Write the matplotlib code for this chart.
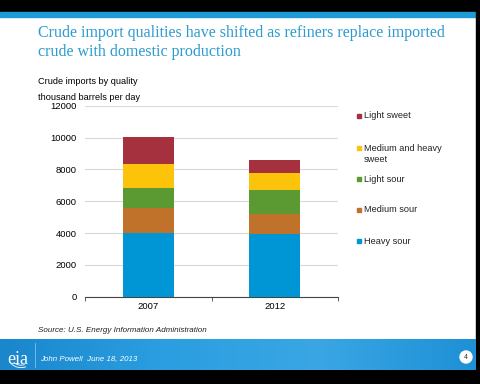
import numpy as np
import matplotlib
matplotlib.use("Agg")
import matplotlib.pyplot as plt
from matplotlib.patches import Rectangle, Circle, Arc

# Data (thousand barrels per day)
years = ["2007", "2012"]
categories = ["Heavy sour", "Medium sour", "Light sour", "Medium and heavy\nsweet", "Light sweet"]
heavy_sour = [4020, 3960]
medium_sour = [1570, 1240]
light_sour = [1240, 1510]
med_heavy_sweet = [1530, 1050]
light_sweet = [1650, 820]
colors = ["#0096d6", "#c0722b", "#5b9a32", "#fcc30b", "#a5313f"]

y_ticks = [0, 2000, 4000, 6000, 8000, 10000, 12000]

plt.rcParams["font.family"] = ["Liberation Sans", "DejaVu Sans"]

fig = plt.figure(figsize=(4.8, 3.84), dpi=100)
fig.patch.set_facecolor("white")

# Slide decoration, drawn in pixel coordinates
bg = fig.add_axes([0, 0, 1, 1])
bg.set_xlim(0, 480)
bg.set_ylim(384, 0)
bg.axis("off")
bg.add_patch(Rectangle((0, 0), 480, 12, color="black"))
bg.add_patch(Rectangle((0, 12), 480, 4.5, color="#1e9ad6"))
bg.add_patch(Rectangle((0, 370), 480, 14, color="black"))
bg.add_patch(Rectangle((476, 0), 4, 384, color="black"))
grad = np.linspace(0, 1, 256).reshape(1, -1)
footer_cmap = matplotlib.colors.LinearSegmentedColormap.from_list(
    "footer", ["#1a86cc", "#2a9ee0", "#3aa6e4", "#1e90d6"])
bg.imshow(grad, extent=(0, 476, 370, 339), aspect="auto", cmap=footer_cmap, zorder=1)
bg.plot([35, 35], [343, 367], color="#7cc2ec", lw=0.6, zorder=2)
bg.text(18, 359, "eia", color="white", fontsize=13, family="Liberation Serif",
        ha="center", va="center", zorder=3)
for r in (9, 12):
    bg.add_patch(Arc((21, 358), r * 2, r * 1.6, theta1=60, theta2=150,
                     color="white", lw=0.6, zorder=3))
bg.text(40, 359, "John Powell  June 18, 2013", color="white", fontsize=5.7,
        style="italic", va="center", zorder=3)
bg.add_patch(Circle((466, 357), 6, color="white", zorder=3))
bg.text(466, 357.5, "4", color="#333333", fontsize=5, ha="center", va="center", zorder=4)

# Titles and notes
title_color = "#2b9bd0"
fig.text(38 / 480, 1 - 33 / 384, "Crude import qualities have shifted as refiners replace imported",
         color=title_color, fontsize=11.5, family="Liberation Serif", va="center")
fig.text(38 / 480, 1 - 52 / 384, "crude with domestic production",
         color=title_color, fontsize=11.5, family="Liberation Serif", va="center")
fig.text(38 / 480, 1 - 82 / 384, "Crude imports by quality", fontsize=6.6, va="center")
fig.text(38 / 480, 1 - 97 / 384, "thousand barrels per day", fontsize=6.6, va="center")
fig.text(38 / 480, 1 - 330 / 384, "Source: U.S. Energy Information Administration",
         fontsize=5.8, style="italic", va="center", color="#222222")

# Stacked bars
ax = fig.add_axes([85 / 480, 87.3 / 384, 253 / 480, 191 / 384])
x = np.arange(len(years))
series = [heavy_sour, medium_sour, light_sour, med_heavy_sweet, light_sweet]
bottom = np.zeros(len(years))
for vals, c in zip(series, colors):
    ax.bar(x, vals, width=0.4, bottom=bottom, color=c, zorder=3)
    bottom += np.array(vals)

ax.set_xlim(-0.5, 1.5)
ax.set_ylim(0, 12000)
ax.set_yticks(y_ticks)
ax.set_yticklabels([str(v) for v in y_ticks], fontsize=6.8)
ax.set_xticks(x)
ax.set_xticklabels(years, fontsize=6.8)
ax.tick_params(axis="y", length=0, pad=6)
ax.tick_params(axis="x", length=0, pad=4)
ax.set_xticks([-0.5, 0.5, 1.5], minor=True)
ax.tick_params(axis="x", which="minor", length=3, color="#444444")
ax.grid(axis="y", color="#d9d9d9", lw=0.8, zorder=0)
for s in ("top", "right", "left"):
    ax.spines[s].set_visible(False)
ax.spines["bottom"].set_color("#444444")
ax.spines["bottom"].set_linewidth(0.8)

# Legend, top entry first
leg_y = [116, 148, 179, 210, 241]
for yy, lab, c in zip(leg_y, categories[::-1], colors[::-1]):
    bg.add_patch(Rectangle((357, yy - 2.2), 4.4, 4.4, color=c, zorder=3))
    if "\n" in lab:
        bg.text(364, yy - 4, lab, fontsize=6.6, va="top", color="#222222", linespacing=1.3)
    else:
        bg.text(364, yy, lab, fontsize=6.6, va="center", color="#222222")

fig.savefig("out.png", dpi=100)
